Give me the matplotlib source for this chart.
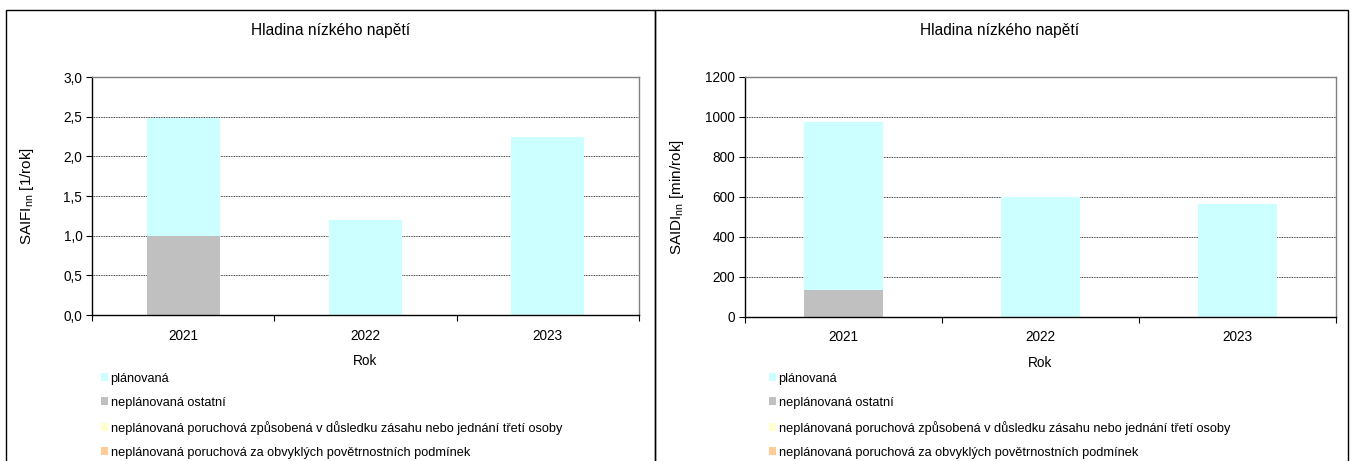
import matplotlib
matplotlib.use("Agg")
import matplotlib.pyplot as plt
from matplotlib.patches import Rectangle, Patch
from matplotlib.ticker import FuncFormatter, FixedLocator, NullFormatter
import numpy as np

plt.rcParams['font.family'] = ['Liberation Sans', 'DejaVu Sans']

years = ['2021', '2022', '2023']
series_names = [
    'plánovaná',
    'neplánovaná ostatní',
    'neplánovaná poruchová způsobená v důsledku zásahu nebo jednání třetí osoby',
    'neplánovaná poruchová za obvyklých povětrnostních podmínek',
]
series_colors = ['#CCFFFF', '#C0C0C0', '#FFFFCC', '#FFCC99']

# SAIFI values per series
saifi_planned = [1.48, 1.20, 2.24]
saifi_other = [1.00, 0.0, 0.0]
saifi_third = [0.0, 0.0, 0.0]
saifi_weather = [0.0, 0.0, 0.0]

# SAIDI values per series
saidi_planned = [843, 598, 562]
saidi_other = [131, 0, 0]
saidi_third = [0, 0, 0]
saidi_weather = [0, 0, 0]

title_text = 'Hladina nízkého napětí'
xlabel_text = 'Rok'

W, H = 1352, 461
fig = plt.figure(figsize=(W / 100, H / 100), dpi=100)
fig.patch.set_facecolor('white')

def px_axes(x0, y0, x1, y1):
    return fig.add_axes([x0 / W, (H - y1) / H, (x1 - x0) / W, (y1 - y0) / H])

# panel borders
for (x0, x1) in [(6, 655), (655, 1348)]:
    fig.patches.append(Rectangle((x0 / W, -0.05), (x1 - x0) / W, (H - 10) / H + 0.05,
                                 transform=fig.transFigure, fill=False,
                                 edgecolor='black', lw=1.0))

def draw_panel(ax, vals, ylim, yticks, fmt, ylabel, title_x, ylabel_x, legend_x):
    x = np.arange(len(years))
    weather, third, other, planned = vals
    bottom = np.zeros(len(years))
    for v, c in [(weather, series_colors[3]), (third, series_colors[2]),
                 (other, series_colors[1]), (planned, series_colors[0])]:
        ax.bar(x, v, width=0.4, bottom=bottom, color=c, edgecolor='none', zorder=2)
        bottom = bottom + np.array(v)
    ax.set_xlim(-0.5, 2.5)
    ax.set_ylim(*ylim)
    ax.set_yticks(yticks)
    ax.yaxis.set_major_formatter(FuncFormatter(fmt))
    ax.yaxis.grid(True, linestyle=(0, (1, 1)), color='black', lw=0.6, zorder=1)
    ax.set_axisbelow(True)
    ax.xaxis.set_major_locator(FixedLocator([-0.5, 0.5, 1.5, 2.5]))
    ax.xaxis.set_major_formatter(NullFormatter())
    ax.xaxis.set_minor_locator(FixedLocator(x))
    ax.set_xticklabels(years, minor=True)
    ax.tick_params(axis='x', which='minor', length=0, pad=10, labelsize=9.8)
    ax.tick_params(axis='x', which='major', length=4, direction='out', color='black')
    ax.tick_params(axis='y', length=4, direction='out', labelsize=9.8, pad=3)
    for s in ['top', 'right']:
        ax.spines[s].set_color('#808080')
        ax.spines[s].set_linewidth(1.0)
    for s in ['left', 'bottom']:
        ax.spines[s].set_color('black')
        ax.spines[s].set_linewidth(1.0)
    ax.set_xlabel(xlabel_text, fontsize=9.8, labelpad=8)
    ax.set_ylabel(ylabel, fontsize=11)
    pos = ax.get_position()
    ax.yaxis.set_label_coords((ylabel_x / W - pos.x0) / pos.width, 0.5)
    fig.text(title_x / W, (H - 31) / H, title_text, ha='center', va='center', fontsize=11.2)
    handles = [Patch(facecolor=c, edgecolor='none') for c in series_colors]
    fig.legend(handles, series_names, loc='upper left',
               bbox_to_anchor=(legend_x / W, (H - 372.5) / H),
               frameon=False, fontsize=9.2, handlelength=0.55, handleheight=0.55,
               handletextpad=0.2, labelspacing=0.95, borderaxespad=0, borderpad=0)

axL = px_axes(92, 77, 639, 315)
draw_panel(axL, (saifi_weather, saifi_third, saifi_other, saifi_planned),
           (0, 3.0), np.arange(0, 3.01, 0.5),
           lambda v, p: f'{v:.1f}'.replace('.', ','),
           r'SAIFI$_{\mathregular{nn}}$ [1/rok]', 331, 36, 101)

axR = px_axes(745, 77, 1336, 316.5)
draw_panel(axR, (saidi_weather, saidi_third, saidi_other, saidi_planned),
           (0, 1200), np.arange(0, 1201, 200),
           lambda v, p: f'{v:.0f}',
           r'SAIDI$_{\mathregular{nn}}$ [min/rok]', 1000, 686, 769)

fig.savefig('out.png', dpi=100, facecolor='white')
